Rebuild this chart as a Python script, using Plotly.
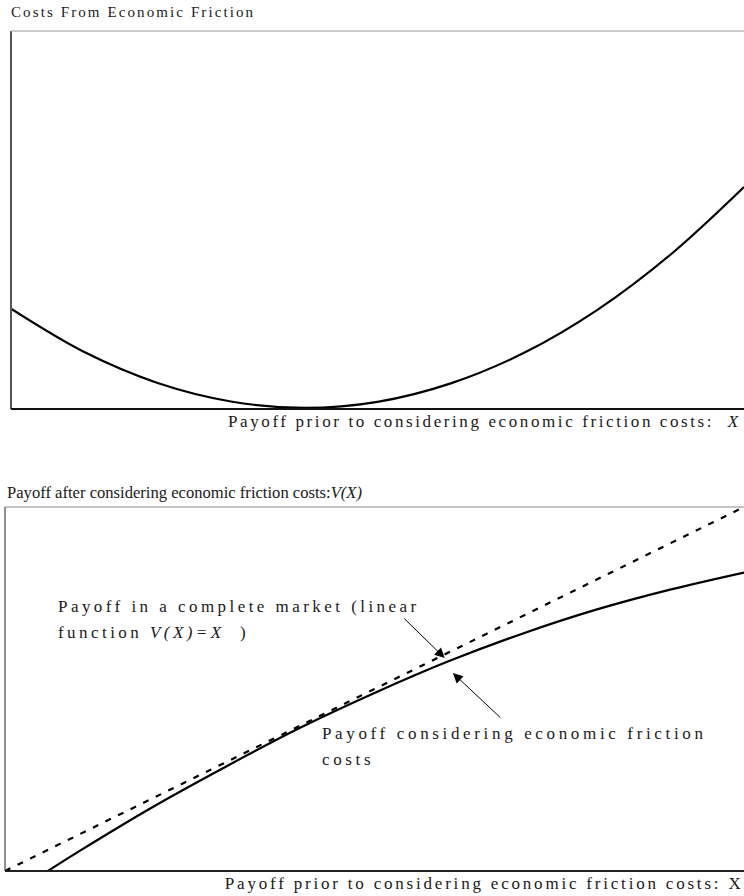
import json
import plotly.graph_objects as go

W, H = 744, 896

# ---- data ----
x_top = [0, 10, 20, 30, 40, 50, 60, 70, 80, 90, 100]
cost_top = [26.3, 14.8, 6.6, 1.7, 0.0, 1.6, 6.5, 14.6, 26.0, 40.7, 58.6]

x_linear = [0, 100]
v_linear = [0, 100]

x_fric = [5.8, 10, 20, 30, 40, 50, 60, 70, 80, 90, 100]
v_fric = [0.0, 5.4, 17.6, 28.8, 39.4, 48.9, 57.6, 65.2, 71.8, 77.3, 82.0]

title_top = "Costs From Economic Friction"
xlabel_top = "Payoff prior to considering economic friction costs:  <i>X</i>"
title_bot = "Payoff after considering economic friction costs:<i>V(X)</i>"
note_linear = ["Payoff in a complete market (linear", "function <i>V(X)=X</i>  )"]
note_fric = ["Payoff considering economic friction", "costs"]
xlabel_bot = "Payoff prior to considering economic friction costs: X"

FONT = "Liberation Serif, Times New Roman, serif"
TXT = "#1a1a1a"


def px(x):
    return x / W


def py(y):
    return 1 - y / H


fig = go.Figure()
fig.add_trace(go.Scatter(x=x_top, y=cost_top, mode="lines", line=dict(color="black", width=2.2, shape="spline"),
                         xaxis="x", yaxis="y", showlegend=False, hoverinfo="skip"))
fig.add_trace(go.Scatter(x=x_linear, y=v_linear, mode="lines", line=dict(color="black", width=2.2, dash="6px,8px"),
                         xaxis="x2", yaxis="y2", showlegend=False, hoverinfo="skip"))
fig.add_trace(go.Scatter(x=x_fric, y=v_fric, mode="lines", line=dict(color="black", width=2.2, shape="spline"),
                         xaxis="x2", yaxis="y2", showlegend=False, hoverinfo="skip"))

ax_common = dict(showgrid=False, zeroline=False, showticklabels=False, ticks="", showline=False, fixedrange=True)
fig.update_layout(
    width=W, height=H,
    margin=dict(l=0, r=0, t=0, b=0),
    paper_bgcolor="white", plot_bgcolor="white",
    xaxis=dict(domain=[px(11), 1], range=[0, 100], anchor="y", **ax_common),
    yaxis=dict(domain=[py(409), py(31)], range=[-0.3, 100], anchor="x", **ax_common),
    xaxis2=dict(domain=[px(5), 1], range=[0, 100], anchor="y2", **ax_common),
    yaxis2=dict(domain=[py(871), py(507)], range=[0, 100], anchor="x2", **ax_common),
    font=dict(family=FONT, size=17, color=TXT),
)

shapes = [
    # top panel frame
    dict(type="line", xref="x domain", yref="y domain", x0=0, x1=0, y0=0, y1=1, line=dict(color="#555", width=2)),
    dict(type="line", xref="x domain", yref="y domain", x0=0, x1=1, y0=1, y1=1, line=dict(color="#bbb", width=1.5)),
    dict(type="line", xref="x domain", yref="y domain", x0=0, x1=1, y0=0, y1=0, line=dict(color="#111", width=2)),
    # bottom panel frame
    dict(type="line", xref="x2 domain", yref="y2 domain", x0=0, x1=0, y0=0, y1=1, line=dict(color="#222", width=1)),
    dict(type="line", xref="x2 domain", yref="y2 domain", x0=0, x1=1, y0=1, y1=1, line=dict(color="#888", width=1)),
    dict(type="line", xref="x2 domain", yref="y2 domain", x0=0, x1=1, y0=0, y1=0, line=dict(color="#222", width=2)),
]
fig.update_layout(shapes=shapes)

spacings = []


def label(text, x, y, size, spacing, xanchor="left"):
    spacings.append(spacing)
    return dict(text=text, x=px(x), y=py(y), xref="paper", yref="paper", xanchor=xanchor, yanchor="middle",
                align=xanchor, showarrow=False, font=dict(family=FONT, size=size, color=TXT))


anns = [
    label(title_top, 9, 12, 15, 2.1),
    label(xlabel_top, 743, 421, 17, 2.6, "right"),
    label(title_bot, 5, 492, 16.6, 0.0),
    label(note_linear[0], 56, 606, 17, 3.45),
    label(note_linear[1], 56, 632, 17, 3.45),
    label(note_fric[0], 320, 733, 17, 3.65),
    label(note_fric[1], 320, 759, 17, 3.65),
    label(xlabel_bot, 745, 883, 17, 2.8, "right"),
    # arrows (head in data coords of bottom panel)
    dict(text="", x=59.5, y=58.5, xref="x2", yref="y2", ax=-42, ay=-41, showarrow=True,
         arrowhead=2, arrowsize=2, arrowwidth=1, arrowcolor="black"),
    dict(text="", x=60.6, y=54.4, xref="x2", yref="y2", ax=49, ay=46, showarrow=True,
         arrowhead=2, arrowsize=2, arrowwidth=1, arrowcolor="black"),
]
fig.update_layout(annotations=anns)

post = (
    "document.body.style.margin='0';"
    "var sp=" + json.dumps(spacings) + ";"
    "document.querySelectorAll('g.annotation').forEach(function(g){"
    "var i=parseInt(g.getAttribute('data-index'));"
    "if(i<sp.length){g.querySelectorAll('text.annotation-text').forEach(function(t){"
    "t.style.letterSpacing=sp[i]+'px';});}});"
)
fig.write_html("out.html", post_script=post, config={"displayModeBar": False})
